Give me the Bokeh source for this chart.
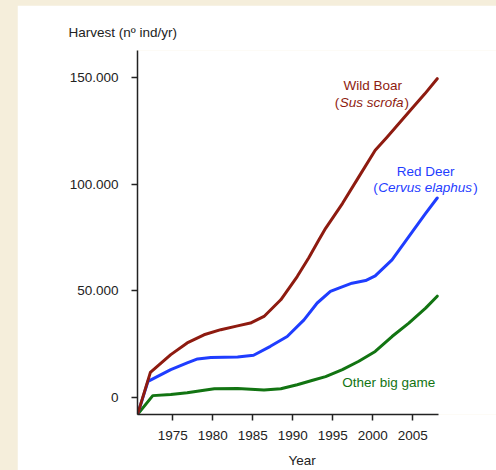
from bokeh.plotting import figure
from bokeh.models import Range1d, FixedTicker, GlobalInlineStyleSheet, Label, Title
from bokeh.embed import file_html
from bokeh.resources import INLINE

# ---- data (harvest, individuals per year) ----
boar_years = [1970.6, 1972.2, 1974.75, 1976.8, 1978.9, 1981, 1983.1, 1984.7, 1986.4, 1988.5, 1990.55,
              1992, 1993.25, 1994.1, 1996.2, 1998.25, 2000.3, 2001.8, 2004.7, 2006.5, 2008.05]
boar_vals = [-7900, 11800, 20100, 25600, 29400, 31800, 33600, 34900, 38000, 45800, 56700,
             65500, 73800, 79300, 90900, 103400, 115900, 122100, 134600, 142300, 149400]

deer_years = [1970.6, 1971.9, 1974.75, 1976.8, 1978.1, 1979.75, 1983.1, 1985.1, 1987.2, 1989.3, 1991.4,
              1993.05, 1994.7, 1995.75, 1997.4, 1999.1, 2000.3, 2002.4, 2004.5, 2006.6, 2008.05]
deer_vals = [-7900, 7600, 13100, 16200, 18100, 18800, 19000, 19800, 24000, 28600, 36400,
             44300, 49700, 51300, 53600, 54800, 57000, 64500, 75400, 86300, 93500]

other_years = [1970.6, 1972.5, 1974.75, 1976.8, 1978.9, 1980.2, 1983.1, 1986.4, 1988.5, 1990.55, 1992.6,
               1994.1, 1996.2, 1998.25, 2000.3, 2002.4, 2004.5, 2006.6, 2008.05]
other_vals = [-7900, 900, 1400, 2200, 3400, 4100, 4200, 3500, 4100, 6000, 8200,
              9800, 13100, 17000, 21600, 28600, 34900, 41900, 47500]

x_ticks = [1975, 1980, 1985, 1990, 1995, 2000, 2005]
y_ticks = [0, 50000, 100000, 150000]
y_tick_labels = ["0", "50.000", "100.000", "150.000"]

BOAR = "#8E1B10"
DEER = "#1F3DFF"
OTHER = "#127412"
FONT = "Liberation Sans"
AX = "#222222"

p = figure(width=479, height=470,
           x_range=Range1d(1970.59, 2015.46), y_range=Range1d(-7944, 162617),
           output_backend="svg", toolbar_location=None,
           min_border_left=120, min_border_right=0, min_border_top=45, min_border_bottom=60)
p.stylesheets = [GlobalInlineStyleSheet(css="html,body{margin:0;padding:0;background:#F5EEDB;overflow:hidden;} body{padding:5px 0 0 17px;}")]
p.background_fill_color = "white"
p.border_fill_color = "white"
p.outline_line_color = None
p.xgrid.visible = False
p.ygrid.visible = False

p.title.text = "Harvest (nº ind/yr)"
p.title.align = "left"
p.title.offset = -69
p.title.standoff = 22
p.title.text_font = FONT
p.title.text_font_style = "normal"
p.title.text_font_size = "13.5px"
p.title.text_color = AX

for ax in (p.xaxis[0], p.yaxis[0]):
    ax.axis_line_color = AX
    ax.axis_line_width = 1.5
    ax.major_tick_line_color = AX
    ax.major_tick_line_width = 1.5
    ax.major_tick_in = 0
    ax.major_tick_out = 6
    ax.minor_tick_line_color = None
    ax.major_label_text_font = FONT
    ax.major_label_text_font_size = "13.5px"
    ax.major_label_text_color = AX

p.xaxis.ticker = FixedTicker(ticks=x_ticks)
p.xaxis.bounds = (1970.59, 2008.2)
p.xaxis.major_label_standoff = 10

p.yaxis.ticker = FixedTicker(ticks=y_ticks)
p.yaxis.major_label_overrides = {t: s for t, s in zip(y_ticks, y_tick_labels)}
p.yaxis.major_label_standoff = 13

p.add_layout(Title(text="Year", align="left", offset=151, standoff=16,
                   text_font=FONT, text_font_style="normal", text_font_size="13.5px",
                   text_color=AX), "below")

for xs, ys, c in ((other_years, other_vals, OTHER), (deer_years, deer_vals, DEER), (boar_years, boar_vals, BOAR)):
    p.line(xs, ys, line_color=c, line_width=3, line_join="round", line_cap="round")

def label(x, y, txt, color, style="normal", align="center", xoff=0):
    p.add_layout(Label(x=x, y=y, text=txt, text_color=color, text_font=FONT,
                       text_font_size="13.5px", text_font_style=style, text_align=align,
                       text_baseline="middle", x_offset=xoff))

# Wild Boar (Sus scrofa)
label(2000.0, 146300, "Wild Boar", BOAR)
label(1999.85, 138300, "Sus scrofa", BOAR, "italic")
label(1999.85, 138300, "(", BOAR, align="right", xoff=-32.4)
label(1999.85, 138300, ")", BOAR, align="left", xoff=33.0)
# Red Deer (Cervus elaphus)
label(2006.6, 106100, "Red Deer", DEER)
label(2006.55, 98600, "Cervus elaphus", DEER, "italic")
label(2006.55, 98600, "(", DEER, align="right", xoff=-47.4)
label(2006.55, 98600, ")", DEER, align="left", xoff=48.0)
# Other big game
label(2002.0, 7000, "Other big game", OTHER)

open("out.html", "w").write(file_html(p, INLINE))
